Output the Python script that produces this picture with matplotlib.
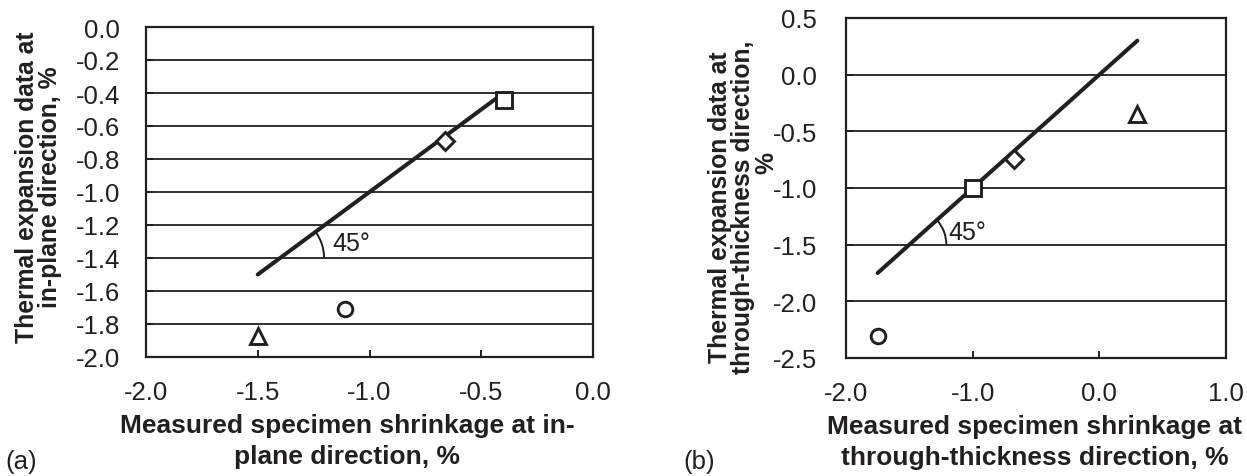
import numpy as np
import matplotlib
matplotlib.use("Agg")
import matplotlib.pyplot as plt
from matplotlib.patches import Arc
from matplotlib.transforms import ScaledTranslation

plt.rcParams['font.family'] = ['Liberation Sans', 'DejaVu Sans']

# ---- data ----
# panel (a): in-plane
a_markers = ['s', 'D', 'o', '^']
a_x = [-0.40, -0.66, -1.11, -1.50]
a_y = [-0.44, -0.69, -1.71, -1.87]
a_line = [-1.5, -0.4]
a_xticks = [-2.0, -1.5, -1.0, -0.5, 0.0]
a_yticks = [0.0, -0.2, -0.4, -0.6, -0.8, -1.0, -1.2, -1.4, -1.6, -1.8, -2.0]

# panel (b): through-thickness
b_markers = ['s', 'D', 'o', '^']
b_x = [-1.00, -0.67, -1.75, 0.30]
b_y = [-1.00, -0.74, -2.31, -0.35]
b_line = [-1.75, 0.30]
b_xticks = [-2.0, -1.0, 0.0, 1.0]
b_yticks = [0.5, 0.0, -0.5, -1.0, -1.5, -2.0, -2.5]

W, H = 1247, 477
fig = plt.figure(figsize=(W / 100, H / 100), dpi=100)

def px_axes(l, t, r, b):
    return fig.add_axes([l / W, 1 - b / H, (r - l) / W, (b - t) / H])

axa = px_axes(146, 28, 593, 358)
axb = px_axes(846, 19, 1226, 359)

TXT = '#231f20'
TICK_FS = 18.5
LAB_FS = 19
YLAB_FS = 17.8

def style(ax, xt, yt, xlim, ylim, ypad):
    ax.set_xlim(*xlim)
    ax.set_ylim(*ylim)
    ax.set_xticks(xt)
    ax.set_yticks(yt)
    ax.set_xticklabels([f"{v:.1f}" for v in xt], fontsize=TICK_FS, color=TXT)
    ax.set_yticklabels([f"{v:.1f}" for v in yt], fontsize=TICK_FS, color=TXT)
    ax.tick_params(axis='both', direction='in', length=5, width=1.4, color=TXT)
    ax.tick_params(axis='x', pad=16.5)
    ax.tick_params(axis='y', pad=ypad)
    ax.grid(axis='y', color=TXT, linewidth=1.3)
    ax.set_axisbelow(True)
    for s in ax.spines.values():
        s.set_linewidth(1.6)
        s.set_color(TXT)

style(axa, a_xticks, a_yticks, (-2.0, 0.0), (-2.0, 0.0), 18.5)
style(axb, b_xticks, b_yticks, (-2.0, 1.0), (-2.5, 0.5), 21)

MS = {'s': 11.5, 'D': 9, 'o': 10.5, '^': 12}

def draw(ax, xs, ys, mks, line):
    ax.plot(line, line, color=TXT, linewidth=2.9, solid_capstyle='round', zorder=3)
    for x, y, m in zip(xs, ys, mks):
        ax.plot([x], [y], marker=m, markersize=MS[m], markerfacecolor='white',
                markeredgecolor=TXT, markeredgewidth=2.1, linestyle='none', zorder=4)

draw(axa, a_x, a_y, a_markers, a_line)
draw(axb, b_x, b_y, b_markers, b_line)

def angle_mark(ax, line, yref, r_px, text_xy):
    # arc centred at intersection of the 1:1 line with gridline yref
    p0 = ax.transData.transform((line[0], line[0]))
    p1 = ax.transData.transform((line[1], line[1]))
    theta = np.degrees(np.arctan2(p1[1] - p0[1], p1[0] - p0[0]))
    r_in = r_px / fig.dpi
    tr = fig.dpi_scale_trans + ScaledTranslation(yref, yref, ax.transData)
    arc = Arc((0, 0), 2 * r_in, 2 * r_in, theta1=0, theta2=theta,
              transform=tr, color=TXT, linewidth=1.4)
    ax.add_patch(arc)
    ax.text(text_xy[0], text_xy[1], "45°", fontsize=18, color=TXT,
            ha='left', va='center')

angle_mark(axa, a_line, -1.4, 44, (-1.165, -1.31))
angle_mark(axb, b_line, -1.5, 37, (-1.19, -1.385))

# axis labels
axa.set_xlabel("Measured specimen shrinkage at in-\nplane direction, %",
               fontsize=LAB_FS, fontweight='bold', linespacing=1.38, color=TXT)
axa.xaxis.set_label_coords(0.45, -0.17)
axa.set_ylabel("Thermal expansion data at\nin-plane direction, %",
               fontsize=YLAB_FS, fontweight='bold', linespacing=0.95, color=TXT)
axa.yaxis.set_label_coords(-0.188, 0.518)

axb.set_xlabel("Measured specimen shrinkage at\nthrough-thickness direction, %",
               fontsize=LAB_FS, fontweight='bold', linespacing=1.38, color=TXT)
axb.xaxis.set_label_coords(0.497, -0.165)
axb.set_ylabel("Thermal expansion data at\nthrough-thickness direction,",
               fontsize=YLAB_FS, fontweight='bold', linespacing=0.95, color=TXT)
axb.yaxis.set_label_coords(-0.2395, 0.447)
axb.text(-0.21, 0.576, "%", transform=axb.transAxes, rotation=90,
         fontsize=YLAB_FS, fontweight='bold', color=TXT, ha='center', va='center')

fig.text(5 / W, 1 - 462 / H, "(a)", fontsize=TICK_FS, va='center', ha='left', color=TXT)
fig.text(683 / W, 1 - 462 / H, "(b)", fontsize=TICK_FS, va='center', ha='left', color=TXT)

fig.savefig("out.png", dpi=100)
